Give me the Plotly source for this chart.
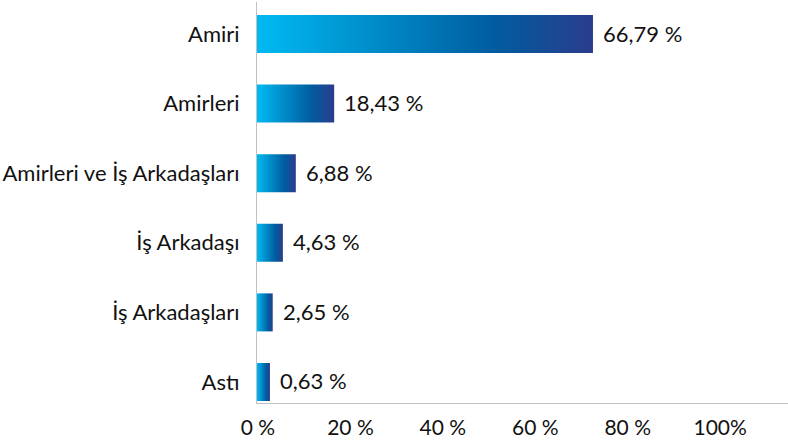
import plotly.graph_objects as go

# Data (top to bottom as displayed)
categories = ["Amiri", "Amirleri", "Amirleri ve İş Arkadaşları",
              "İş Arkadaşı", "İş Arkadaşları", "Astı"]
values = [66.79, 18.43, 6.88, 4.63, 2.65, 0.63]          # labelled percentages
bar_lengths = [72.7, 16.7, 8.4, 5.6, 3.4, 2.8]            # drawn bar lengths (axis units)
tick_vals = [0, 20, 40, 60, 80, 100]
tick_text = ["0 %", "20 %", "40 %", "60 %", "80 %", "100%"]

FONT = "Lato"
TEXT_COLOR = "#111111"
HALF = 0.273
gradient = [[0.0, "rgb(0,186,242)"], [0.7, "rgb(0,93,160)"], [1.0, "rgb(42,60,140)"]]

n = len(categories)
fig = go.Figure()
for i, (cat, L) in enumerate(zip(categories, bar_lengths)):
    yc = n - 1 - i
    fig.add_trace(go.Scatter(
        x=[0, L, L, 0, 0],
        y=[yc - HALF, yc - HALF, yc + HALF, yc + HALF, yc - HALF],
        mode="lines", line=dict(width=0), fill="toself",
        fillgradient=dict(type="horizontal", colorscale=gradient, start=0, stop=L),
        hoverinfo="skip", showlegend=False,
    ))
    fig.add_annotation(
        x=L, y=yc, text=f"{values[i]:.2f} %".replace(".", ","),
        xanchor="left", yanchor="middle", xshift=8, yshift=1, showarrow=False,
        font=dict(family=FONT, size=22, color=TEXT_COLOR),
    )

fig.update_layout(
    width=788, height=442,
    margin=dict(l=257, r=0, t=2, b=39),
    plot_bgcolor="white", paper_bgcolor="white",
    showlegend=False,
    xaxis=dict(range=[0, 114.9], tickvals=tick_vals, ticktext=tick_text, automargin=False,
               showgrid=False, zeroline=False, showline=True, linecolor="#c0c0c0",
               linewidth=1, ticks="", ticklabelstandoff=6, ticklabelshift=1,
               tickfont=dict(family=FONT, size=21, color=TEXT_COLOR), fixedrange=True),
    yaxis=dict(range=[-0.302, 5.46], tickvals=list(range(n - 1, -1, -1)), automargin=False,
               ticktext=categories, showgrid=False, zeroline=False, showline=True,
               linecolor="#c0c0c0", linewidth=1, ticks="", ticklabelstandoff=12,
               tickfont=dict(family=FONT, size=22, color=TEXT_COLOR), fixedrange=True),
)

fig.write_html(
    "out.html",
    config={"displayModeBar": False},
    post_script="document.body.style.margin='0';document.body.style.overflow='hidden';",
)
